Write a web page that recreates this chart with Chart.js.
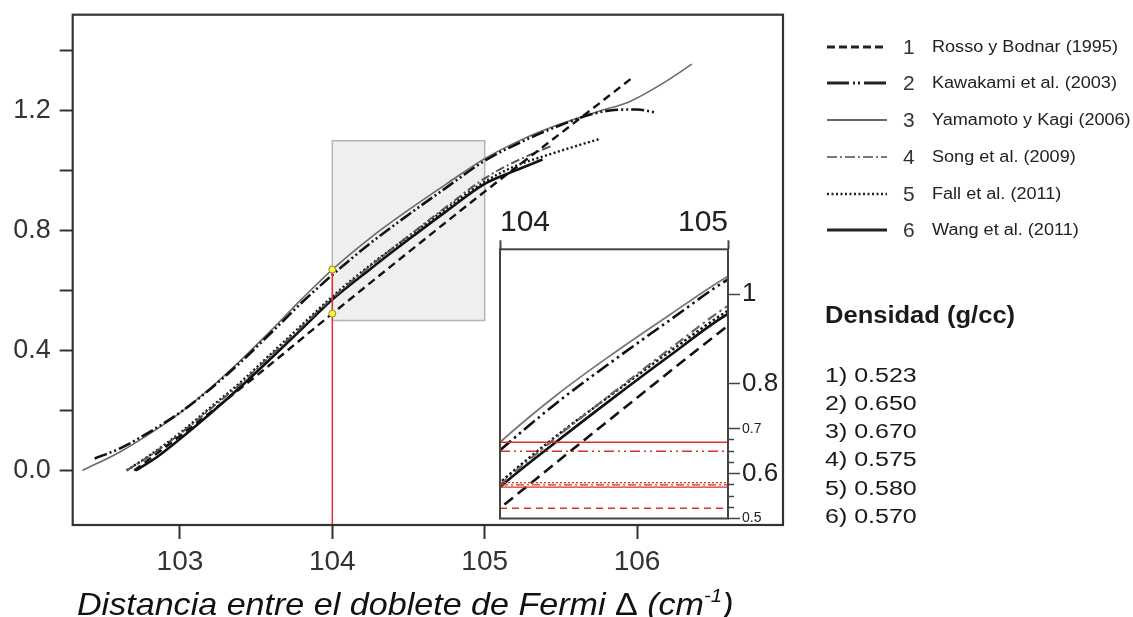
<!DOCTYPE html>
<html>
<head>
<meta charset="utf-8">
<script src="https://cdn.jsdelivr.net/npm/chart.js@4/dist/chart.umd.min.js"></script>
<style>
  body { margin: 0; background: #fff; font-family: "Liberation Sans", Arial, sans-serif; color: #1a1a1a; }
  #wrap { position: relative; width: 1133px; height: 617px; overflow: hidden; }
  #main { position: absolute; left: 0; top: 0; }
  #inset { position: absolute; left: 490px; top: 200px; }
  .row { position: absolute; left: 827px; height: 30px; display: flex; align-items: center; white-space: nowrap; }
  .row svg { width: 60px; height: 10px; }
  .row .num { position: absolute; left: 76px; font-size: 21px; color: #333; }
  .row .name { position: absolute; left: 105px; font-size: 16px; color: #222; transform: scaleX(1.13); transform-origin: 0 50%; }
  #dens { position: absolute; left: 825px; top: 304px; }
  #dens h3 { margin: 0; font-size: 23px; line-height: 23px; font-weight: bold; white-space: nowrap; transform: scaleX(1.11); transform-origin: 0 50%; }
  #dens ul { list-style: none; margin: 0; padding: 0; position: absolute; top: 56.5px; left: 0; font-size: 20px; line-height: 28.3px; white-space: nowrap; transform: scaleX(1.25); transform-origin: 0 0; }
  #xtitle { position: absolute; left: 77px; top: 587.5px; font-size: 32px; line-height: 32px; font-style: italic; white-space: nowrap; color: #111; transform: scaleX(1.065); transform-origin: 0 50%; }
  #xtitle sup { font-size: 0.6em; vertical-align: 0.7em; line-height: 0; }
</style>
</head>
<body>
<div id="wrap">
  <canvas id="main" width="1133" height="617"></canvas>
  <canvas id="inset" width="300" height="330"></canvas>
  <div id="legend"></div>
  <div id="dens"><h3>Densidad (g/cc)</h3><ul id="denslist"></ul></div>
  <div id="xtitle">Distancia entre el doblete de Fermi <span style="font-style:normal">Δ</span> (cm<sup>-1</sup>)</div>
</div>
<script>
// series labels and densities
const seriesNums = ['1', '2', '3', '4', '5', '6'];
const seriesNames = ['Rosso y Bodnar (1995)', 'Kawakami et al. (2003)', 'Yamamoto y Kagi (2006)',
  'Song et al. (2009)', 'Fall et al. (2011)', 'Wang et al. (2011)'];
const densities = [0.523, 0.650, 0.670, 0.575, 0.580, 0.570];

// curves (x = Fermi diad split, y = density)
const rossoX = [102.70, 103.0, 103.5, 104.0, 104.5, 105.0, 105.5, 105.98];
const rossoY = [0.0, 0.115, 0.315, 0.523, 0.728, 0.930, 1.125, 1.314];

const kawakamiX = [102.44, 102.6, 102.8, 103.0, 103.2, 103.4, 103.6, 103.8, 104.0, 104.25, 104.5, 104.75, 105.0, 105.25, 105.5, 105.7, 105.85, 106.0, 106.12];
const kawakamiY = [0.040, 0.072, 0.128, 0.193, 0.272, 0.362, 0.460, 0.560, 0.652, 0.758, 0.853, 0.944, 1.033, 1.098, 1.152, 1.188, 1.202, 1.204, 1.194];

const yamamotoX = [102.36, 102.6, 102.8, 103.0, 103.2, 103.4, 103.6, 103.8, 104.0, 104.25, 104.5, 104.75, 105.0, 105.25, 105.5, 105.75, 105.95, 106.15, 106.36];
const yamamotoY = [0.0, 0.060, 0.122, 0.192, 0.275, 0.368, 0.468, 0.572, 0.670, 0.776, 0.869, 0.956, 1.040, 1.105, 1.156, 1.198, 1.230, 1.285, 1.355];

const songX = [102.65, 102.8, 103.0, 103.2, 103.4, 103.6, 103.8, 104.0, 104.25, 104.5, 104.75, 105.0, 105.2, 105.45];
const songY = [0.0, 0.048, 0.122, 0.205, 0.290, 0.385, 0.480, 0.575, 0.682, 0.782, 0.880, 0.974, 1.030, 1.085];

const fallX = [102.65, 102.8, 103.0, 103.2, 103.4, 103.6, 103.8, 104.0, 104.25, 104.5, 104.75, 105.0, 105.2, 105.4, 105.6, 105.75];
const fallY = [0.0, 0.050, 0.125, 0.210, 0.295, 0.390, 0.485, 0.580, 0.685, 0.780, 0.874, 0.963, 1.015, 1.050, 1.082, 1.105];

const wangX = [102.71, 102.85, 103.0, 103.2, 103.4, 103.6, 103.8, 104.0, 104.25, 104.5, 104.75, 105.0, 105.2, 105.38];
const wangY = [0.0, 0.045, 0.105, 0.190, 0.280, 0.375, 0.472, 0.570, 0.672, 0.770, 0.865, 0.956, 1.000, 1.037];

// axis ranges, zoom window and marker
const xRange = [102.296, 106.958];
const yRange = [-0.182, 1.520];
const zoomX = [104, 105];
const zoomY = [0.5, 1.1];
const markerX = 104;
const insetBigLabels = [0.6, 0.8, 1.0];
const insetSmallLabels = [0.5, 0.7];

const curves = [[rossoX, rossoY], [kawakamiX, kawakamiY], [yamamotoX, yamamotoY], [songX, songY], [fallX, fallY], [wangX, wangY]];

// styles
const FONT = 'Liberation Sans';
const mainStyles = [
  { color: '#111', width: 2.4, dash: [8, 5] },
  { color: '#111', width: 2.6, dash: [13, 3, 2, 3, 2, 3] },
  { color: '#6a6a6a', width: 1.6, dash: [] },
  { color: '#555', width: 2.0, dash: [9, 3, 2, 3] },
  { color: '#111', width: 2.4, dash: [2, 2.5] },
  { color: '#111', width: 2.6, dash: [] }
];
const insetStyles = [
  { color: '#111', width: 2.6, dash: [11, 6] },
  { color: '#111', width: 2.6, dash: [14, 4, 2.5, 4, 2.5, 4] },
  { color: '#777', width: 1.8, dash: [] },
  { color: '#666', width: 2.2, dash: [10, 4, 2.5, 4] },
  { color: '#111', width: 2.4, dash: [2.5, 2.5] },
  { color: '#111', width: 2.6, dash: [] }
];
const redDash = [[7, 5], [10, 4, 2, 4, 2, 4], [], [8, 3, 2, 3], [2, 2], []];
const legendDash = ['8 4', '22 4 2 3 2 4', '', '10 3 2 3', '2 2.5', ''];
const legendColor = ['#222', '#222', '#666', '#777', '#222', '#222'];
const legendWidth = [3, 3, 2, 2, 2.5, 3];

const toPoints = (xs, ys) => xs.map((x, i) => ({ x: x, y: ys[i] }));

const frame = {
  id: 'frame',
  beforeDraw(chart, args, opts) {
    if (!opts.fill) return;
    const { ctx, chartArea: a } = chart;
    ctx.save();
    ctx.fillStyle = opts.fill;
    ctx.fillRect(a.left, a.top, a.right - a.left, a.bottom - a.top);
    ctx.restore();
  },
  afterDraw(chart, args, opts) {
    const { ctx, chartArea: a } = chart;
    ctx.save();
    ctx.strokeStyle = opts.color || '#333';
    ctx.lineWidth = opts.width || 2;
    ctx.strokeRect(a.left, a.top, a.right - a.left, a.bottom - a.top);
    ctx.restore();
  }
};

// fixed axis sizes so the plot box lands where the original has it
const fixWidth = (w) => (s) => { s.width = w; s.paddingTop = 0; s.paddingBottom = 0; };
const fixHeight = (h) => (s) => { s.height = h; s.paddingLeft = 0; s.paddingRight = 0; };

const curveSets = (styles, extra) => curves.map(([xs, ys], i) => Object.assign({
  label: seriesNames[i],
  data: toPoints(xs, ys),
  showLine: true,
  borderColor: styles[i].color,
  borderWidth: styles[i].width,
  borderDash: styles[i].dash,
  pointRadius: 0,
  cubicInterpolationMode: 'monotone',
  fill: false,
  order: 1
}, extra || {}));

// main chart
new Chart(document.getElementById('main'), {
  type: 'scatter',
  data: {
    datasets: [
      {
        data: [
          { x: zoomX[0], y: zoomY[0] }, { x: zoomX[0], y: zoomY[1] },
          { x: zoomX[1], y: zoomY[1] }, { x: zoomX[1], y: zoomY[0] }, { x: zoomX[0], y: zoomY[0] }
        ],
        showLine: true, fill: 'shape', backgroundColor: '#efefef', borderColor: '#b4b4b4',
        borderWidth: 1.5, pointRadius: 0, order: 10
      },
      ...curveSets(mainStyles),
      {
        data: [{ x: markerX, y: densities[2] }, { x: markerX, y: yRange[0] }],
        showLine: true, borderColor: '#e0332b', borderWidth: 1.5, pointRadius: 0, order: 0
      },
      {
        data: [{ x: markerX, y: densities[2] }, { x: markerX, y: densities[0] }],
        showLine: false, pointRadius: 3.5, backgroundColor: '#fff23a', borderColor: '#8a8a3a',
        borderWidth: 1, order: -1
      }
    ]
  },
  options: {
    responsive: false,
    animation: false,
    events: [],
    layout: { padding: { left: 0, top: 14.7, right: 350, bottom: 0 } },
    plugins: {
      legend: { display: false },
      tooltip: { enabled: false },
      frame: { color: '#333', width: 2.2 }
    },
    scales: {
      x: {
        type: 'linear', min: xRange[0], max: xRange[1],
        afterFit: fixHeight(92),
        border: { display: false },
        grid: { drawOnChartArea: false, tickLength: 14, tickWidth: 2, tickColor: '#333' },
        ticks: { stepSize: 1, includeBounds: false, autoSkip: false, maxRotation: 0, padding: 6,
          color: '#333', font: { family: FONT, size: 28 } }
      },
      y: {
        type: 'linear', min: yRange[0], max: yRange[1],
        afterFit: fixWidth(72.7),
        border: { display: false },
        grid: { drawOnChartArea: false, tickLength: 13, tickWidth: 2, tickColor: '#333' },
        ticks: {
          stepSize: 0.2, includeBounds: false, autoSkip: false, padding: 9, color: '#333',
          font: { family: FONT, size: 27 },
          callback: (v) => { const k = Math.round(v * 10); return k % 4 === 0 ? (k / 10).toFixed(1) : ''; }
        }
      }
    }
  },
  plugins: [frame]
});

// inset (zoom on the grey window)
const isLabel = (v, list) => list.some((t) => Math.abs(t - v) < 1e-6);
new Chart(document.getElementById('inset'), {
  type: 'scatter',
  data: {
    datasets: [
      ...curveSets(insetStyles, { capBezierPoints: false }),
      ...densities.map((d, i) => ({
        data: [{ x: zoomX[0], y: d }, { x: zoomX[1], y: d }],
        showLine: true, borderColor: '#d8312a', borderWidth: 1.4, borderDash: redDash[i],
        pointRadius: 0, order: 0
      }))
    ]
  },
  options: {
    responsive: false,
    animation: false,
    events: [],
    layout: { padding: { left: 10, top: 0, right: 0, bottom: 11.5 } },
    plugins: {
      legend: { display: false },
      tooltip: { enabled: false },
      frame: { fill: '#fff', color: '#444', width: 2 }
    },
    scales: {
      x: {
        type: 'linear', position: 'top', min: zoomX[0], max: zoomX[1],
        afterFit: fixHeight(49.3),
        border: { display: false },
        grid: { drawOnChartArea: false, tickLength: 9, tickWidth: 2, tickColor: '#444' },
        ticks: { stepSize: 1, autoSkip: false, align: 'inner', maxRotation: 0, padding: 0,
          color: '#222', font: { family: FONT, size: 30 } }
      },
      y: {
        type: 'linear', position: 'right', min: zoomY[0], max: zoomY[1],
        afterFit: fixWidth(62),
        border: { display: false },
        grid: {
          drawOnChartArea: false, tickLength: 12, tickWidth: 1.5,
          tickColor: (c) => {
            const v = c.tick.value;
            return (v <= 0.7 + 1e-6 || isLabel(v, insetBigLabels)) ? '#444' : 'rgba(0,0,0,0)';
          },
          tickBorderDash: (c) => {
            const v = c.tick.value;
            return (isLabel(v, insetBigLabels) || isLabel(v, insetSmallLabels)) ? [] : [6, 30];
          }
        },
        ticks: {
          stepSize: 0.025, autoSkip: false, padding: 2, color: '#222',
          font: (c) => ({ family: FONT, size: c.tick && isLabel(c.tick.value, insetSmallLabels) ? 14 : 26 }),
          callback: (v) => {
            if (isLabel(v, insetBigLabels)) return Math.abs(v - 1) < 1e-6 ? '1' : v.toFixed(1);
            if (isLabel(v, insetSmallLabels)) return v.toFixed(1);
            return '';
          }
        }
      }
    }
  },
  plugins: [frame]
});

// legend
const legend = document.getElementById('legend');
seriesNames.forEach((name, i) => {
  const row = document.createElement('div');
  row.className = 'row';
  row.style.top = (46.7 + i * 36.7 - 15) + 'px';
  row.innerHTML = '<svg viewBox="0 0 60 10"><line x1="0" y1="5" x2="60" y2="5" stroke="' + legendColor[i] +
    '" stroke-width="' + legendWidth[i] + '" stroke-dasharray="' + legendDash[i] + '"/></svg>' +
    '<span class="num">' + seriesNums[i] + '</span><span class="name">' + name + '</span>';
  legend.appendChild(row);
});

// density list
const list = document.getElementById('denslist');
densities.forEach((d, i) => {
  const li = document.createElement('li');
  li.textContent = seriesNums[i] + ') ' + d.toFixed(3);
  list.appendChild(li);
});
</script>
</body>
</html>
